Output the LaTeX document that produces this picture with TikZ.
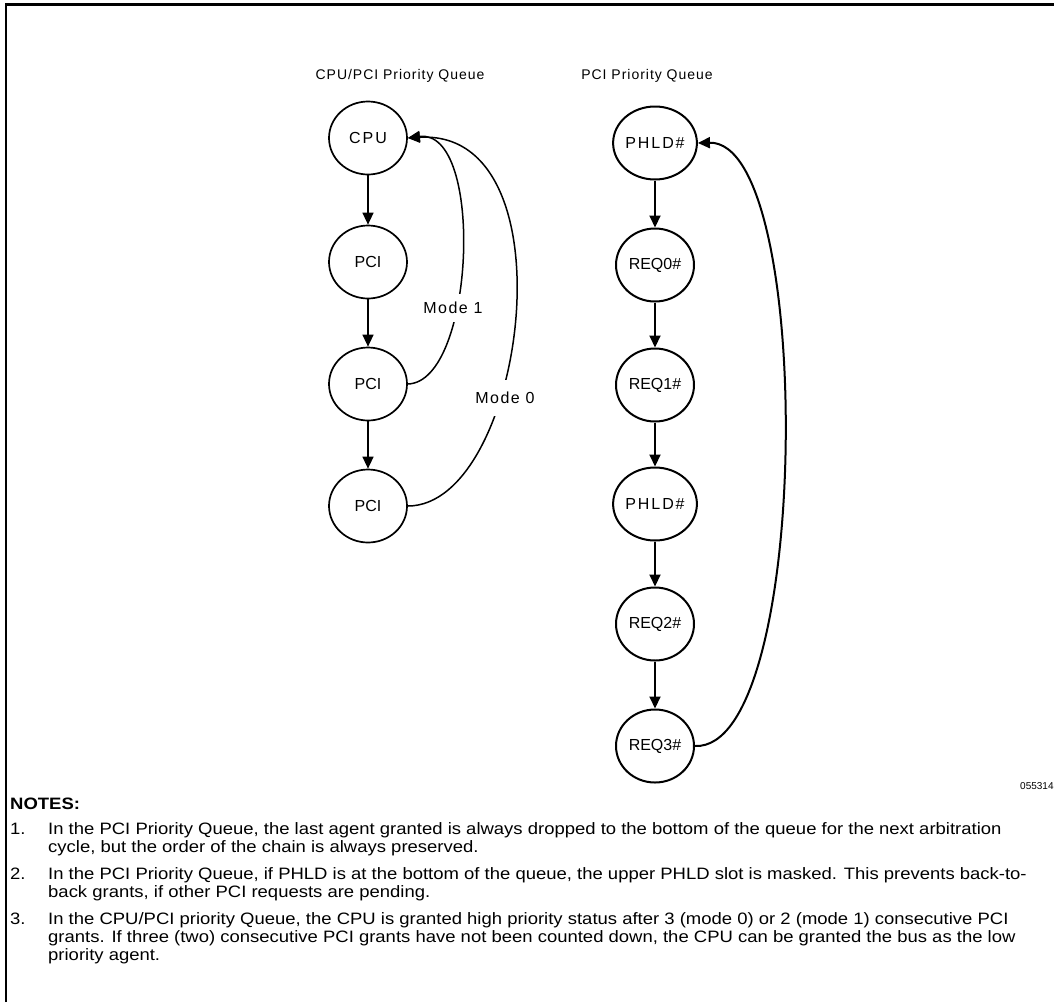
\documentclass[tikz,border=0pt]{standalone}
\usepackage{fontspec}
\setmainfont{Liberation Sans}
\newfontfamily\spacedA[LetterSpace=12]{Liberation Sans}
\newfontfamily\spacedB[LetterSpace=9]{Liberation Sans}
\newfontfamily\spacedT[LetterSpace=7]{Liberation Sans}
\newfontfamily\widefont[FakeStretch=1.12]{Liberation Sans}
\usetikzlibrary{shapes.geometric,arrows.meta}
\begin{document}
\begin{tikzpicture}[x=1pt,y=-1pt,
  qnode/.style={ellipse, draw, line width=1.7pt, minimum width=78pt, minimum height=73pt, inner sep=0pt, font=\fontsize{16}{19}\selectfont},
  rnode/.style={qnode, line width=2pt},
  larrow/.style={-{Triangle[length=12pt,width=11pt]}, line width=1.4pt},
  rarrow/.style={-{Triangle[length=12pt,width=11pt]}, line width=2pt},
  modelabel/.style={fill=white, inner xsep=2pt, font=\fontsize{16}{19}\selectfont\spacedB},
  title/.style={font=\fontsize{14}{17}\selectfont\spacedT},
  notetext/.style={anchor=base west, align=left, inner sep=0pt, font=\fontsize{16.5}{18}\selectfont\widefont},
  notenum/.style={anchor=base west, inner sep=0pt, font=\fontsize{16.5}{18}\selectfont\widefont}]
\useasboundingbox (0,0) rectangle (1054,1002);
% frame
\draw[line width=2.5pt] (6,1002) -- (6,4.3) -- (1054,4.3);
% titles
\node[title] (t1) at (400,76) {CPU/PCI Priority Queue};
\node[title] (t2) at (647,76) {PCI Priority Queue};
% left queue
\node[qnode] (cpu) at (368,138) {\spacedA CPU};
\node[qnode] (p1) at (368,262) {PCI};
\node[qnode] (p2) at (368,384) {PCI};
\node[qnode] (p3) at (368,506) {PCI};
\draw[larrow] (cpu) -- (p1);
\draw[larrow] (p1) -- (p2);
\draw[larrow] (p2) -- (p3);
\draw[larrow, line width=1.5pt] (p2.east) .. controls (475,382) and (485,128) .. (cpu.east);
\draw[larrow, line width=1.5pt] (p3.east) .. controls (525,506) and (575,128) .. (cpu.east);
\node[modelabel, inner ysep=8pt] (m1) at (453,308) {Mode 1};
\node[modelabel, inner ysep=12pt] (m0) at (505,398) {Mode 0};
% right queue
\node[rnode] (r1) at (655,143) {\spacedA PHLD\#};
\node[rnode] (r2) at (655,265) {REQ0\#};
\node[rnode] (r3) at (655,385) {REQ1\#};
\node[rnode] (r4) at (655,504) {\spacedA PHLD\#};
\node[rnode] (r5) at (655,624) {REQ2\#};
\node[rnode] (r6) at (655,746) {REQ3\#};
\draw[rarrow] (r1) -- (r2);
\draw[rarrow] (r2) -- (r3);
\draw[rarrow] (r3) -- (r4);
\draw[rarrow] (r4) -- (r5);
\draw[rarrow] (r5) -- (r6);
\draw[rarrow] (r6.east) .. controls (812,751) and (815,140) .. (r1.east);
% figure number
\node[anchor=west, inner sep=0pt, font=\fontsize{10}{12}\selectfont] (fig) at (1020,786) {055314};
% notes
\node[anchor=base west, inner sep=0pt, font=\fontsize{16.5}{18}\selectfont\widefont\bfseries] (notes) at (10,809) {NOTES:};
\node[notenum] (n1num) at (10,834) {1.};
\node[notetext] (n1) at (48,852) {In the PCI Priority Queue, the last agent granted is always dropped to the bottom of the queue for the next arbitration\\cycle, but the order of the chain is always preserved.};
\node[notenum] (n2num) at (10,879) {2.};
\node[notetext] (n2) at (48,897) {In the PCI Priority Queue, if PHLD is at the bottom of the queue, the upper PHLD slot is masked. This prevents back-to-\\back grants, if other PCI requests are pending.};
\node[notenum] (n3num) at (10,924) {3.};
\node[notetext] (n3) at (48,960) {In the CPU/PCI priority Queue, the CPU is granted high priority status after 3 (mode 0) or 2 (mode 1) consecutive PCI\\grants. If three (two) consecutive PCI grants have not been counted down, the CPU can be granted the bus as the low\\priority agent.};
\end{tikzpicture}
\end{document}
